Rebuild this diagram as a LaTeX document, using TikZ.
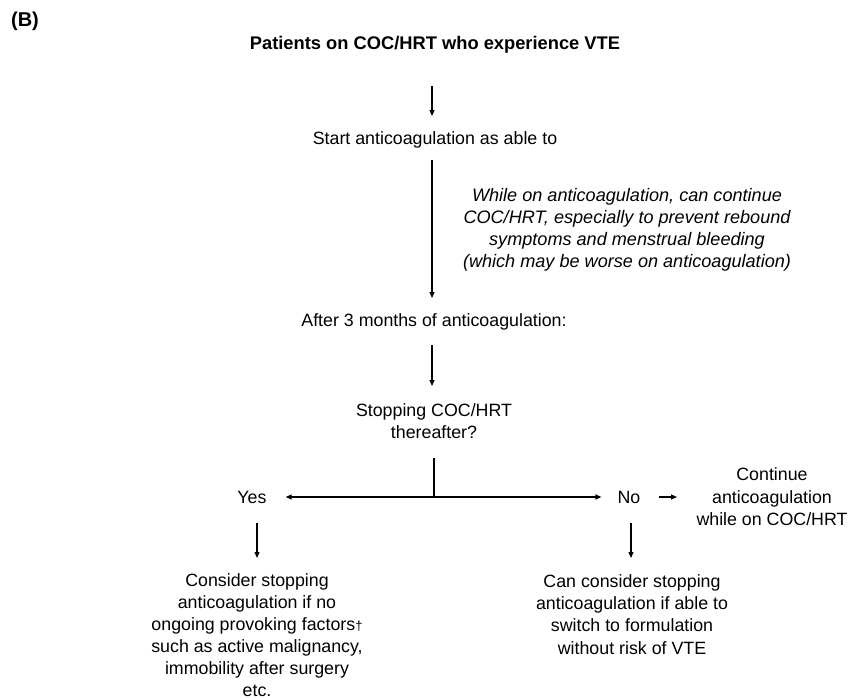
\documentclass[tikz,border=0pt]{standalone}
\usepackage{fontspec}
\setmainfont{Liberation Sans}
\usetikzlibrary{arrows.meta}
\begin{document}
\begin{tikzpicture}[x=1pt,y=-1pt,
  txt/.style={inner sep=0pt,align=center,font=\fontsize{17.8}{22.6}\selectfont},
  conn/.style={line width=1.2pt,-{Triangle[length=6pt,width=5pt]}},
  plain/.style={line width=1.2pt}]
\useasboundingbox (0,0) rectangle (851,699);
% panel label and heading
\node[txt,font=\fontsize{20}{22}\selectfont\bfseries] (lbl) at (25,21) {(B)};
\node[txt,font=\fontsize{18.3}{22}\selectfont\bfseries] (title) at (435,45) {Patients on COC/HRT who experience VTE};
% main column
\node[txt] (start) at (435,140) {Start anticoagulation as able to};
\node[txt,font=\fontsize{18.1}{22}\selectfont\itshape] (note) at (627,230) {While on anticoagulation, can continue\\COC/HRT, especially to prevent rebound\\symptoms and menstrual bleeding\\(which may be worse on anticoagulation)};
\node[txt] (after) at (434,322) {After 3 months of anticoagulation:};
\node[txt] (stop) at (434,421) {Stopping COC/HRT\\thereafter?};
% branch point and arrow ends
\coordinate (split) at (434,497);
\coordinate (top1) at (432,86);  \coordinate (end1) at (432,116);
\coordinate (top2) at (432,160); \coordinate (end2) at (432,298);
\coordinate (top3) at (432,345); \coordinate (end3) at (432,386);
\coordinate (stem) at (434,458);
% branches
\node[txt] (yes) at (252,497) {Yes};
\node[txt] (no) at (629,497) {No};
\node[txt] (cont) at (772,497) {Continue\\anticoagulation\\while on COC/HRT};
\node[txt,anchor=north,font=\fontsize{17.8}{22}\selectfont] (yesout) at (257,573) {Consider stopping\\anticoagulation if no\\ongoing provoking factors{\fontsize{13}{13}\selectfont\dag}\\such as active malignancy,\\immobility after surgery\\etc.};
\node[txt,anchor=north,font=\fontsize{17.8}{22.4}\selectfont] (noout) at (632,574) {Can consider stopping\\anticoagulation if able to\\switch to formulation\\without risk of VTE};
\coordinate (yestop) at (257,523); \coordinate (yesend) at (257,558);
\coordinate (notop) at (631,523);  \coordinate (noend) at (631,558);
\coordinate (conttip) at (677,497);
% connectors
\draw[conn] (top1) -- (end1);
\draw[conn] (top2) -- (end2);
\draw[conn] (top3) -- (end3);
\draw[plain] (stem) -- (split);
\draw[conn] (split) -- ([xshift=19pt]yes.east);
\draw[conn] (split) -- ([xshift=-16pt]no.west);
\draw[conn] ([xshift=18pt]no.east) -- (conttip);
\draw[conn] (yestop) -- (yesend);
\draw[conn] (notop) -- (noend);
\end{tikzpicture}
\end{document}
